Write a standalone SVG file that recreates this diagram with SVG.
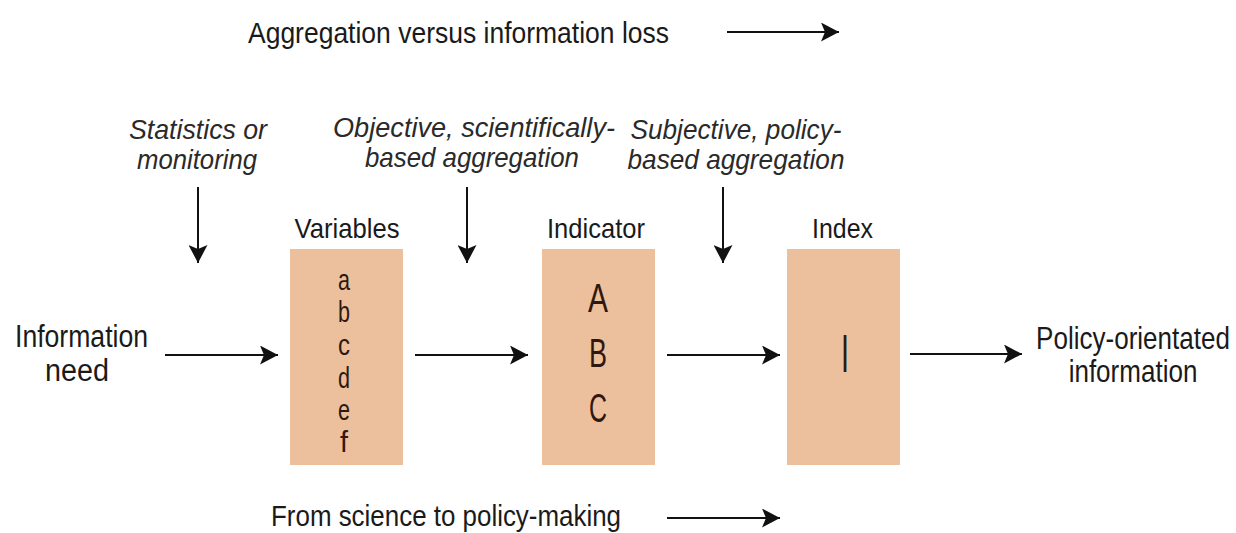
<svg xmlns="http://www.w3.org/2000/svg" width="1236" height="533" viewBox="0 0 1236 533">
<defs>
<style>
text{font-family:"Liberation Sans",Arial,sans-serif;fill:#1a1a1a}
.t{font-size:30px}
.lab{font-size:28px;text-anchor:middle}
.it{font-size:28px;font-style:italic;text-anchor:middle;fill:#2a2a2a}
.side{font-size:31px;text-anchor:middle}
.box{fill:#ECC09C}
.v{font-size:29px;text-anchor:middle;fill:#2e1810}
.cap{font-size:40px;text-anchor:middle;fill:#2e1810}
.conn line{stroke:#111;stroke-width:2;fill:none;marker-end:url(#ah)}
</style>
<marker id="ah" markerUnits="userSpaceOnUse" markerWidth="19" markerHeight="19" refX="18" refY="9.5" orient="auto">
<path d="M0,0 L18,9.5 L0,19 L4,9.5 Z" fill="#111"/>
</marker>
</defs>
<rect width="1236" height="533" fill="#fff"/>

<g id="title">
<text class="t" x="248" y="43" textLength="421" lengthAdjust="spacingAndGlyphs">Aggregation versus information loss</text>
</g>
<g id="bottom-title">
<text class="t" x="271" y="526" textLength="350" lengthAdjust="spacingAndGlyphs">From science to policy-making</text>
</g>

<g id="stats-label">
<text class="it" x="198" y="139" textLength="138" lengthAdjust="spacingAndGlyphs">Statistics or</text>
<text class="it" x="197" y="169" textLength="120" lengthAdjust="spacingAndGlyphs">monitoring</text>
</g>
<g id="objective-label">
<text class="it" x="474" y="137" textLength="282" lengthAdjust="spacingAndGlyphs">Objective, scientifically-</text>
<text class="it" x="472" y="167" textLength="214" lengthAdjust="spacingAndGlyphs">based aggregation</text>
</g>
<g id="subjective-label">
<text class="it" x="736" y="139" textLength="211" lengthAdjust="spacingAndGlyphs">Subjective, policy-</text>
<text class="it" x="736" y="169" textLength="217" lengthAdjust="spacingAndGlyphs">based aggregation</text>
</g>

<g id="information-need">
<text class="side" x="81.5" y="347" textLength="133" lengthAdjust="spacingAndGlyphs">Information</text>
<text class="side" x="77" y="381" textLength="64" lengthAdjust="spacingAndGlyphs">need</text>
</g>

<g id="variables">
<text class="lab" x="347" y="238" textLength="105" lengthAdjust="spacingAndGlyphs">Variables</text>
<rect class="box" x="290" y="249" width="113" height="216"/>
<text class="v" x="344" y="290" textLength="12" lengthAdjust="spacingAndGlyphs">a</text>
<text class="v" x="344" y="322" textLength="12" lengthAdjust="spacingAndGlyphs">b</text>
<text class="v" x="344" y="355" textLength="12" lengthAdjust="spacingAndGlyphs">c</text>
<text class="v" x="344" y="388" textLength="12" lengthAdjust="spacingAndGlyphs">d</text>
<text class="v" x="344" y="420" textLength="12" lengthAdjust="spacingAndGlyphs">e</text>
<text class="v" x="344" y="452" textLength="8" lengthAdjust="spacingAndGlyphs">f</text>
</g>

<g id="indicator">
<text class="lab" x="596" y="238" textLength="98" lengthAdjust="spacingAndGlyphs">Indicator</text>
<rect class="box" x="542" y="249" width="113" height="216"/>
<text class="cap" x="598" y="312" textLength="20" lengthAdjust="spacingAndGlyphs">A</text>
<text class="cap" x="598" y="367" textLength="18" lengthAdjust="spacingAndGlyphs">B</text>
<text class="cap" x="598" y="422" textLength="18" lengthAdjust="spacingAndGlyphs">C</text>
</g>

<g id="index">
<text class="lab" x="842.5" y="238" textLength="61" lengthAdjust="spacingAndGlyphs">Index</text>
<rect class="box" x="787" y="249" width="113" height="216"/>
<text class="cap" x="845" y="372" style="font-size:54px" textLength="8" lengthAdjust="spacingAndGlyphs">I</text>
</g>

<g id="policy-info">
<text class="side" transform="translate(1133,349) scale(0.84,1)" x="0" y="0">Policy-orientated</text>
<text class="side" transform="translate(1133,382) scale(0.84,1)" x="0" y="0">information</text>
</g>

<g id="connectors" class="conn">
<line x1="727" y1="32" x2="839" y2="32"/>
<line x1="667" y1="518" x2="780" y2="518"/>
<line x1="198" y1="187" x2="198" y2="263"/>
<line x1="467" y1="187" x2="467" y2="263"/>
<line x1="723" y1="187" x2="723" y2="263"/>
<line x1="165" y1="355" x2="278" y2="355"/>
<line x1="415" y1="355" x2="528" y2="355"/>
<line x1="667" y1="355" x2="780" y2="355"/>
<line x1="910" y1="354" x2="1022" y2="354"/>
</g>
</svg>
